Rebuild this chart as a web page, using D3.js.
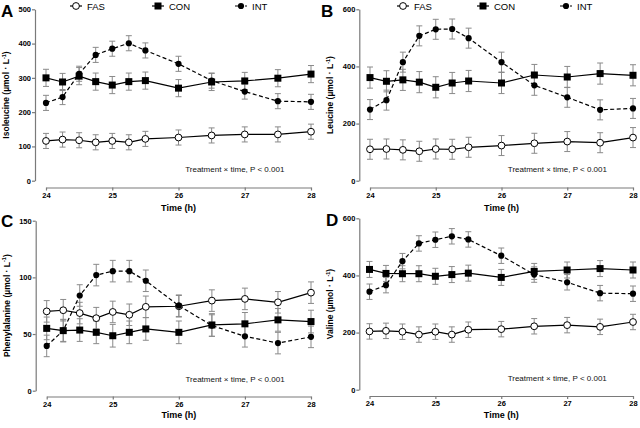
<!DOCTYPE html>
<html><head><meta charset="utf-8">
<script src="https://cdn.jsdelivr.net/npm/d3@7"></script>
<style>body{margin:0;background:#fff}svg{font-family:"Liberation Sans",Arial,sans-serif}</style>
</head><body>
<svg id="c" width="640" height="428"></svg>
<script>
const times = [24, 24.25, 24.5, 24.75, 25, 25.25, 25.5, 26, 26.5, 27, 27.5, 28];
const xTicks = [24, 25, 26, 27, 28];
const seriesNames = ["FAS", "CON", "INT"];

const isoFAS = [116, 120, 118, 112, 116, 112, 122, 126, 132, 135, 135, 143];
const isoCON = [300, 288, 305, 289, 279, 289, 292, 270, 288, 291, 299, 311];
const isoINT = [227, 244, 312, 367, 385, 401, 380, 341, 292, 260, 232, 230];
const isoErr = [22, 25, 22];

const leuFAS = [110, 111, 108, 103, 111, 110, 117, 123, 131, 137, 133, 151];
const leuCON = [361, 348, 353, 345, 327, 342, 349, 342, 370, 363, 375, 369];
const leuINT = [249, 282, 415, 507, 530, 531, 499, 415, 334, 292, 248, 253];
const leuErr = [35, 37, 35];

const pheFAS = [70, 71, 68.5, 64, 69.5, 67, 74, 74.5, 79.5, 81, 78, 86.5];
const pheCON = [55, 53, 53.5, 51.5, 48.5, 51.5, 54.5, 51.5, 58, 59, 62.5, 61];
const pheINT = [39.5, 53, 84, 102, 105.5, 105.5, 97, 75, 57.5, 48, 42, 47.5];
const pheErr = [9.5, 10, 9.5];

const valFAS = [204, 206, 203, 193, 203, 193, 210, 212, 222, 226, 220, 237];
const valCON = [421, 407, 406, 406, 397, 403, 408, 393, 414, 419, 424, 419];
const valINT = [343, 366, 450, 512, 525, 537, 526, 469, 403, 376, 338, 336];
const valErr = [27, 28, 27];

const panels = [
  {letter:"A", title:"Isoleucine", data:[isoFAS, isoCON, isoINT], err:isoErr, yMax:500, yTicks:[0,100,200,300,400,500],
   yAxisX:35, x0:46, x1:311, yTop:9.3, yBot:180.7, xAxisY:187.5, titleY:210.5, letterX:1, letterY:17, legend:[24, 106, 189]},
  {letter:"B", title:"Leucine", data:[leuFAS, leuCON, leuINT], err:leuErr, yMax:600, yTicks:[0,200,400,600],
   yAxisX:359.3, x0:370, x1:633, yTop:9.3, yBot:180.7, xAxisY:187.5, titleY:210.5, letterX:321, letterY:17, legend:[27, 107, 190]},
  {letter:"C", title:"Phenylalanine", data:[pheFAS, pheCON, pheINT], err:pheErr, yMax:150, yTicks:[0,50,100,150],
   yAxisX:35.7, x0:46.7, x1:311, yTop:220.7, yBot:390.7, xAxisY:396.5, titleY:417.5, letterX:1, letterY:227, legend:null},
  {letter:"D", title:"Valine", data:[valFAS, valCON, valINT], err:valErr, yMax:600, yTicks:[0,200,400,600],
   yAxisX:359.3, x0:369.5, x1:633, yTop:218.3, yBot:389.7, xAxisY:396, titleY:417.5, letterX:326, letterY:226, legend:null}
];

const svg = d3.select("#c");
const axisColor = "#7a7a7a";

function drawMarker(g, type, x, y) {
  if (type === "FAS") g.append("circle").attr("cx", x).attr("cy", y).attr("r", 3.4).attr("fill", "#fff").attr("stroke", "#000").attr("stroke-width", 1);
  else if (type === "CON") g.append("rect").attr("x", x-3.5).attr("y", y-3.5).attr("width", 7).attr("height", 7).attr("fill", "#000");
  else g.append("circle").attr("cx", x).attr("cy", y).attr("r", 3.1).attr("fill", "#000");
}

panels.forEach(p => {
  const g = svg.append("g");
  const x = d3.scaleLinear().domain([24, 28]).range([p.x0, p.x1]);
  const y = d3.scaleLinear().domain([0, p.yMax]).range([p.yBot, p.yTop]);

  const ya = g.append("g").attr("transform", `translate(${p.yAxisX},0)`)
    .call(d3.axisLeft(y).tickValues(p.yTicks).tickSize(3).tickPadding(1).tickSizeOuter(0));
  ya.select(".domain").attr("stroke", axisColor).attr("stroke-width", 1.2);
  ya.selectAll(".tick line").attr("stroke", axisColor).attr("stroke-width", 1.2);
  ya.selectAll("text").attr("font-size", 7.5).attr("font-weight", "bold").attr("fill", "#000").attr("font-family", "Liberation Sans, Arial");

  const xa = g.append("g").attr("transform", `translate(0,${p.xAxisY})`)
    .call(d3.axisBottom(x).tickValues(xTicks).tickFormat(d3.format("d")).tickSize(3).tickPadding(2).tickSizeOuter(0));
  xa.select(".domain").attr("stroke", axisColor).attr("stroke-width", 1.2);
  xa.selectAll(".tick line").attr("stroke", axisColor).attr("stroke-width", 1.2);
  xa.selectAll("text").attr("font-size", 7.5).attr("font-weight", "bold").attr("fill", "#000").attr("font-family", "Liberation Sans, Arial");

  g.append("text").attr("x", (p.x0+p.x1)/2).attr("y", p.titleY).attr("text-anchor", "middle")
    .attr("font-size", 9).attr("font-weight", "bold").text("Time (h)");

  const cy = (p.yTop + p.yBot)/2;
  const yt = g.append("text").attr("transform", `translate(${p.yAxisX - 26},${cy}) rotate(-90)`)
    .attr("text-anchor", "middle").attr("font-size", 8.5).attr("font-weight", "bold");
  yt.append("tspan").text(p.title + " (µmol · L");
  yt.append("tspan").attr("font-size", 5.5).attr("dy", -3.5).text("-1");
  yt.append("tspan").attr("dy", 3.5).text(")");

  g.append("text").attr("x", p.letterX).attr("y", p.letterY).attr("font-size", 17).attr("font-weight", "bold").text(p.letter);

  g.append("text").attr("x", x(26.85)).attr("y", p.yBot - 9).attr("text-anchor", "middle")
    .attr("font-size", 8).attr("fill", "#111").text("Treatment × time, P < 0.001");

  p.data.forEach((vals, si) => {
    const e = p.err[si];
    vals.forEach((v, i) => {
      const cx = x(times[i]);
      g.append("line").attr("x1", cx).attr("x2", cx).attr("y1", y(v - e)).attr("y2", y(v + e)).attr("stroke", "#8a8a8a").attr("stroke-width", 1);
      [v - e, v + e].forEach(w => g.append("line").attr("x1", cx-3).attr("x2", cx+3).attr("y1", y(w)).attr("y2", y(w)).attr("stroke", "#8a8a8a").attr("stroke-width", 1));
    });
  });

  const line = d3.line().x((d, i) => x(times[i])).y(d => y(d));
  p.data.forEach((vals, si) => {
    g.append("path").attr("d", line(vals)).attr("fill", "none").attr("stroke", "#000").attr("stroke-width", 1.2)
      .attr("stroke-dasharray", si === 2 ? "4,2.5" : null);
  });

  p.data.forEach((vals, si) => {
    vals.forEach((v, i) => drawMarker(g, seriesNames[si], x(times[i]), y(v)));
  });

  if (p.legend) {
    seriesNames.forEach((n, si) => {
      const lx = p.x0 + p.legend[si], ly = 6;
      g.append("line").attr("x1", lx).attr("x2", lx + 12).attr("y1", ly).attr("y2", ly).attr("stroke", "#000").attr("stroke-width", 1.2)
        .attr("stroke-dasharray", si === 2 ? "3,2" : null);
      drawMarker(g, n, lx + 6, ly);
      g.append("text").attr("x", lx + 17).attr("y", ly + 3.5).attr("font-size", 9.5).text(n);
    });
  }
});
</script>
</body></html>
